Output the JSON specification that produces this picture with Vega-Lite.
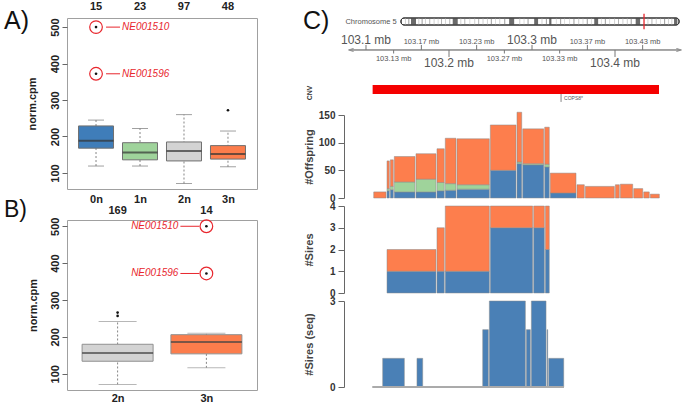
{
  "$schema": "https://vega.github.io/schema/vega-lite/v6.json",
  "background": "white",
  "padding": {"left": 3, "top": 0, "right": 0, "bottom": 0},
  "config": {
    "font": "Liberation Sans",
    "view": {"stroke": null},
    "axis": {"grid": false, "labelOverlap": false, "labelFlush": false}
  },
  "resolve": {"scale": {"color": "independent", "shape": "independent"}},
  "datasets": {
    "boxA": [
      {"cn": "0n", "lower": 119, "q1": 168, "median": 188, "q3": 229, "upper": 245, "n": 15},
      {"cn": "1n", "lower": 119, "q1": 136, "median": 156, "q3": 183, "upper": 222, "n": 23},
      {"cn": "2n", "lower": 71, "q1": 133, "median": 160, "q3": 185, "upper": 260, "n": 97},
      {"cn": "3n", "lower": 117, "q1": 138, "median": 152, "q3": 175, "upper": 215, "n": 48}
    ],
    "outA": [
      {"cn": "0n", "value": 500}, {"cn": "0n", "value": 372}, {"cn": "3n", "value": 272}
    ],
    "annA": [
      {"cn": "0n", "value": 500, "label": "NE001510"},
      {"cn": "0n", "value": 372, "label": "NE001596"}
    ],
    "boxB": [
      {"cn": "2n", "lower": 71, "q1": 134, "median": 156, "q3": 180, "upper": 242, "n": 169},
      {"cn": "3n", "lower": 116, "q1": 154, "median": 186, "q3": 206, "upper": 210, "n": 14}
    ],
    "outB": [
      {"cn": "2n", "value": 257}, {"cn": "2n", "value": 266},
      {"cn": "3n", "value": 500}, {"cn": "3n", "value": 372}
    ],
    "annB": [
      {"cn": "3n", "value": 500, "label": "NE001510"},
      {"cn": "3n", "value": 372, "label": "NE001596"}
    ],
    "chrom": [{"name": "Chromosome 5", "start": 0, "end": 1}],
    "marker": [{"pos": 0.874}],
    "bands": [
      {"start": 0.014, "end": 0.018, "stain": "gpos25"},
      {"start": 0.026, "end": 0.030, "stain": "gpos50"},
      {"start": 0.036, "end": 0.054, "stain": "gpos75"},
      {"start": 0.062, "end": 0.066, "stain": "gpos25"},
      {"start": 0.074, "end": 0.078, "stain": "gpos50"},
      {"start": 0.086, "end": 0.090, "stain": "gpos25"},
      {"start": 0.102, "end": 0.105, "stain": "gpos50"},
      {"start": 0.117, "end": 0.121, "stain": "gpos25"},
      {"start": 0.132, "end": 0.135, "stain": "gpos25"},
      {"start": 0.144, "end": 0.147, "stain": "gpos50"},
      {"start": 0.158, "end": 0.162, "stain": "gpos25"},
      {"start": 0.174, "end": 0.177, "stain": "gpos50"},
      {"start": 0.186, "end": 0.204, "stain": "gpos75"},
      {"start": 0.213, "end": 0.217, "stain": "gpos25"},
      {"start": 0.228, "end": 0.231, "stain": "gpos50"},
      {"start": 0.246, "end": 0.249, "stain": "gpos25"},
      {"start": 0.263, "end": 0.267, "stain": "gpos25"},
      {"start": 0.278, "end": 0.281, "stain": "gpos50"},
      {"start": 0.293, "end": 0.297, "stain": "gpos25"},
      {"start": 0.309, "end": 0.313, "stain": "gpos25"},
      {"start": 0.323, "end": 0.327, "stain": "gpos50"},
      {"start": 0.338, "end": 0.341, "stain": "gpos25"},
      {"start": 0.353, "end": 0.357, "stain": "gpos25"},
      {"start": 0.371, "end": 0.375, "stain": "gpos50"},
      {"start": 0.389, "end": 0.407, "stain": "gpos75"},
      {"start": 0.425, "end": 0.429, "stain": "gpos25"},
      {"start": 0.441, "end": 0.444, "stain": "gpos25"},
      {"start": 0.455, "end": 0.459, "stain": "gpos50"},
      {"start": 0.479, "end": 0.493, "stain": "gpos75"},
      {"start": 0.505, "end": 0.509, "stain": "gpos25"},
      {"start": 0.521, "end": 0.525, "stain": "gpos50"},
      {"start": 0.533, "end": 0.541, "stain": "gpos75"},
      {"start": 0.557, "end": 0.560, "stain": "gpos25"},
      {"start": 0.572, "end": 0.576, "stain": "gpos50"},
      {"start": 0.587, "end": 0.590, "stain": "gpos25"},
      {"start": 0.605, "end": 0.608, "stain": "gpos25"},
      {"start": 0.620, "end": 0.624, "stain": "gpos50"},
      {"start": 0.637, "end": 0.641, "stain": "gpos25"},
      {"start": 0.653, "end": 0.656, "stain": "gpos25"},
      {"start": 0.668, "end": 0.672, "stain": "gpos50"},
      {"start": 0.683, "end": 0.686, "stain": "gpos25"},
      {"start": 0.695, "end": 0.709, "stain": "gpos75"},
      {"start": 0.719, "end": 0.722, "stain": "gpos25"},
      {"start": 0.733, "end": 0.737, "stain": "gpos50"},
      {"start": 0.749, "end": 0.752, "stain": "gpos25"},
      {"start": 0.766, "end": 0.770, "stain": "gpos25"},
      {"start": 0.781, "end": 0.784, "stain": "gpos50"},
      {"start": 0.796, "end": 0.800, "stain": "gpos25"},
      {"start": 0.812, "end": 0.816, "stain": "gpos25"},
      {"start": 0.826, "end": 0.830, "stain": "gpos50"},
      {"start": 0.844, "end": 0.860, "stain": "gpos75"},
      {"start": 0.886, "end": 0.890, "stain": "gpos25"},
      {"start": 0.901, "end": 0.904, "stain": "gpos50"},
      {"start": 0.916, "end": 0.920, "stain": "gpos25"},
      {"start": 0.932, "end": 0.935, "stain": "gpos25"},
      {"start": 0.946, "end": 0.950, "stain": "gpos50"},
      {"start": 0.960, "end": 0.964, "stain": "gpos25"},
      {"start": 0.972, "end": 0.976, "stain": "gpos25"},
      {"start": 0.982, "end": 0.994, "stain": "gpos75"}
    ],
    "gticks": [
      {"mb": 103.1, "label": "103.1 mb", "major": true, "side": "above"},
      {"mb": 103.1333, "label": "103.13 mb", "major": false, "side": "below"},
      {"mb": 103.1667, "label": "103.17 mb", "major": false, "side": "above"},
      {"mb": 103.2, "label": "103.2 mb", "major": true, "side": "below"},
      {"mb": 103.2333, "label": "103.23 mb", "major": false, "side": "above"},
      {"mb": 103.2667, "label": "103.27 mb", "major": false, "side": "below"},
      {"mb": 103.3, "label": "103.3 mb", "major": true, "side": "above"},
      {"mb": 103.3333, "label": "103.33 mb", "major": false, "side": "below"},
      {"mb": 103.3667, "label": "103.37 mb", "major": false, "side": "above"},
      {"mb": 103.4, "label": "103.4 mb", "major": true, "side": "below"},
      {"mb": 103.4333, "label": "103.43 mb", "major": false, "side": "above"}
    ],
    "garrows": [
      {"mb": 103.082, "dir": "left"},
      {"mb": 103.477, "dir": "right"}
    ],
    "cnv": [{"track": "CNV", "start": 103.108, "end": 103.453}],
    "genes": [{"gene": "COPS8*", "pos": 103.335}],
    "offspring": [
      {"start": 103.1081, "end": 103.1241, "type": "untested", "n": 11},
      {"start": 103.1241, "end": 103.1281, "type": "genotyped", "n": 13},
      {"start": 103.1241, "end": 103.1281, "type": "imputed", "n": 4},
      {"start": 103.1241, "end": 103.1281, "type": "untested", "n": 50},
      {"start": 103.1281, "end": 103.1329, "type": "genotyped", "n": 15},
      {"start": 103.1281, "end": 103.1329, "type": "imputed", "n": 6},
      {"start": 103.1281, "end": 103.1329, "type": "untested", "n": 48},
      {"start": 103.1329, "end": 103.1590, "type": "genotyped", "n": 11},
      {"start": 103.1329, "end": 103.1590, "type": "imputed", "n": 18},
      {"start": 103.1329, "end": 103.1590, "type": "untested", "n": 46},
      {"start": 103.1590, "end": 103.1843, "type": "genotyped", "n": 11},
      {"start": 103.1590, "end": 103.1843, "type": "imputed", "n": 23},
      {"start": 103.1590, "end": 103.1843, "type": "untested", "n": 46},
      {"start": 103.1843, "end": 103.1943, "type": "genotyped", "n": 13},
      {"start": 103.1843, "end": 103.1943, "type": "imputed", "n": 15},
      {"start": 103.1843, "end": 103.1943, "type": "untested", "n": 61},
      {"start": 103.1943, "end": 103.2084, "type": "genotyped", "n": 14},
      {"start": 103.1943, "end": 103.2084, "type": "imputed", "n": 12},
      {"start": 103.1943, "end": 103.2084, "type": "untested", "n": 82},
      {"start": 103.2084, "end": 103.2486, "type": "genotyped", "n": 16},
      {"start": 103.2084, "end": 103.2486, "type": "imputed", "n": 8},
      {"start": 103.2084, "end": 103.2486, "type": "untested", "n": 83},
      {"start": 103.2486, "end": 103.2807, "type": "genotyped", "n": 50},
      {"start": 103.2486, "end": 103.2807, "type": "untested", "n": 82},
      {"start": 103.2807, "end": 103.2876, "type": "genotyped", "n": 62},
      {"start": 103.2807, "end": 103.2876, "type": "imputed", "n": 3},
      {"start": 103.2807, "end": 103.2876, "type": "untested", "n": 90},
      {"start": 103.2876, "end": 103.3141, "type": "genotyped", "n": 60},
      {"start": 103.2876, "end": 103.3141, "type": "imputed", "n": 2},
      {"start": 103.2876, "end": 103.3141, "type": "untested", "n": 63},
      {"start": 103.3141, "end": 103.3208, "type": "genotyped", "n": 56},
      {"start": 103.3141, "end": 103.3208, "type": "imputed", "n": 5},
      {"start": 103.3141, "end": 103.3208, "type": "untested", "n": 67},
      {"start": 103.3208, "end": 103.3530, "type": "genotyped", "n": 9},
      {"start": 103.3208, "end": 103.3530, "type": "untested", "n": 36},
      {"start": 103.3530, "end": 103.3630, "type": "untested", "n": 24},
      {"start": 103.3630, "end": 103.3992, "type": "untested", "n": 21},
      {"start": 103.3992, "end": 103.4052, "type": "untested", "n": 24},
      {"start": 103.4052, "end": 103.4213, "type": "untested", "n": 25},
      {"start": 103.4213, "end": 103.4334, "type": "untested", "n": 17},
      {"start": 103.4334, "end": 103.4413, "type": "untested", "n": 11},
      {"start": 103.4413, "end": 103.4534, "type": "untested", "n": 7}
    ],
    "sires": [
      {"start": 103.1241, "end": 103.1843, "type": "genotyped", "n": 1},
      {"start": 103.1241, "end": 103.1843, "type": "untested", "n": 1},
      {"start": 103.1843, "end": 103.1943, "type": "genotyped", "n": 1},
      {"start": 103.1843, "end": 103.1943, "type": "untested", "n": 2},
      {"start": 103.1943, "end": 103.2486, "type": "genotyped", "n": 1},
      {"start": 103.1943, "end": 103.2486, "type": "untested", "n": 3},
      {"start": 103.2486, "end": 103.3008, "type": "genotyped", "n": 3},
      {"start": 103.2486, "end": 103.3008, "type": "untested", "n": 1},
      {"start": 103.3008, "end": 103.3149, "type": "genotyped", "n": 3},
      {"start": 103.3008, "end": 103.3149, "type": "untested", "n": 1},
      {"start": 103.3149, "end": 103.3208, "type": "genotyped", "n": 2},
      {"start": 103.3149, "end": 103.3208, "type": "untested", "n": 2}
    ],
    "siresSeq": [
      {"start": 103.1189, "end": 103.1462, "n": 1},
      {"start": 103.1602, "end": 103.1683, "n": 1},
      {"start": 103.2394, "end": 103.2474, "n": 2},
      {"start": 103.2474, "end": 103.2920, "n": 3},
      {"start": 103.2920, "end": 103.2980, "n": 2},
      {"start": 103.2980, "end": 103.3169, "n": 3},
      {"start": 103.3169, "end": 103.3189, "n": 2},
      {"start": 103.3189, "end": 103.3382, "n": 1}
    ]
  },
  "spacing": 45,
  "hconcat": [
    {
      "spacing": 31,
      "bounds": "flush",
      "resolve": {"scale": {"color": "independent", "shape": "independent"}},
      "vconcat": [
        {
          "width": 190,
          "height": 171,
          "view": {"stroke": "#a0a0a0"},
          "title": {"text": "A)", "fontSize": 25, "fontWeight": "normal", "anchor": "start", "frame": "group", "baseline": "alphabetic", "offset": 0, "dx": -63, "dy": 53, "color": "#111"},
          "layer": [
            {
              "data": {"name": "boxA"},
              "mark": {"type": "rule", "strokeDash": [2, 2], "color": "#666", "strokeWidth": 0.8},
              "encoding": {
                "x": {"field": "cn", "type": "nominal", "scale": {"type": "point", "padding": 0.66, "domain": ["0n", "1n", "2n", "3n"]},
                  "axis": {"title": null, "labelAngle": 0, "labelFontWeight": "bold", "labelFontSize": 11, "labelColor": "#222", "domain": false, "ticks": false, "labelPadding": 4}},
                "y": {"field": "lower", "type": "quantitative", "scale": {"domain": [56, 525], "nice": false, "zero": false},
                  "axis": {"values": [100, 200, 300, 400, 500], "labelAngle": -90, "labelFontWeight": "bold", "labelFontSize": 11, "labelColor": "#222", "title": "norm.cpm", "titleFontSize": 11, "titleFontWeight": "bold", "titleColor": "#222", "titleX": -30, "titleBaseline": "bottom", "domain": false, "tickSize": 5, "tickColor": "#666", "labelPadding": 2}},
                "y2": {"field": "upper"}
              }
            },
            {
              "data": {"name": "boxA"},
              "mark": {"type": "tick", "size": 16, "thickness": 1, "color": "#777"},
              "encoding": {"x": {"field": "cn", "type": "nominal"}, "y": {"field": "lower", "type": "quantitative"}}
            },
            {
              "data": {"name": "boxA"},
              "mark": {"type": "tick", "size": 16, "thickness": 1, "color": "#777"},
              "encoding": {"x": {"field": "cn", "type": "nominal"}, "y": {"field": "upper", "type": "quantitative"}}
            },
            {
              "data": {"name": "boxA"},
              "mark": {"type": "bar", "size": 35, "stroke": "#707070", "strokeWidth": 1},
              "encoding": {
                "x": {"field": "cn", "type": "nominal"},
                "y": {"field": "q1", "type": "quantitative"},
                "y2": {"field": "q3"},
                "color": {"field": "cn", "type": "nominal", "scale": {"domain": ["0n", "1n", "2n", "3n"], "range": ["#3f7db9", "#9fd39b", "#d3d3d3", "#fc7d4c"]}, "legend": null}
              }
            },
            {
              "data": {"name": "boxA"},
              "mark": {"type": "tick", "size": 35, "thickness": 2, "color": "#333"},
              "encoding": {"x": {"field": "cn", "type": "nominal"}, "y": {"field": "median", "type": "quantitative"}}
            },
            {
              "data": {"name": "outA"},
              "mark": {"type": "point", "filled": true, "size": 7, "color": "#111", "opacity": 1},
              "encoding": {"x": {"field": "cn", "type": "nominal"}, "y": {"field": "value", "type": "quantitative"}}
            },
            {
              "data": {"name": "annA"},
              "mark": {"type": "point", "filled": false, "size": 160, "color": "#e8262d", "strokeWidth": 1.2, "opacity": 1},
              "encoding": {"x": {"field": "cn", "type": "nominal"}, "y": {"field": "value", "type": "quantitative"}}
            },
            {
              "data": {"name": "annA"},
              "mark": {"type": "rule", "color": "#e8262d", "strokeWidth": 1, "xOffset": 10, "x2Offset": 24},
              "encoding": {"x": {"field": "cn", "type": "nominal"}, "x2": {"field": "cn"}, "y": {"field": "value", "type": "quantitative"}}
            },
            {
              "data": {"name": "annA"},
              "mark": {"type": "text", "align": "left", "dx": 26, "fontStyle": "italic", "fontSize": 10, "color": "#e8262d"},
              "encoding": {"x": {"field": "cn", "type": "nominal"}, "y": {"field": "value", "type": "quantitative"}, "text": {"field": "label"}}
            },
            {
              "data": {"name": "boxA"},
              "mark": {"type": "text", "fontWeight": "bold", "fontSize": 11, "color": "#222"},
              "encoding": {"x": {"field": "cn", "type": "nominal"}, "y": {"datum": 555, "type": "quantitative"}, "text": {"field": "n"}}
            }
          ]
        },
        {
          "width": 190,
          "height": 170,
          "view": {"stroke": "#a0a0a0"},
          "title": {"text": "B)", "fontSize": 23, "fontWeight": "normal", "anchor": "start", "frame": "group", "baseline": "alphabetic", "offset": 0, "dx": -63, "dy": 35, "color": "#111"},
          "layer": [
            {
              "data": {"name": "boxB"},
              "mark": {"type": "rule", "strokeDash": [2, 2], "color": "#666", "strokeWidth": 0.8},
              "encoding": {
                "x": {"field": "cn", "type": "nominal", "scale": {"type": "point", "padding": 0.57, "domain": ["2n", "3n"]},
                  "axis": {"title": null, "labelAngle": 0, "labelFontWeight": "bold", "labelFontSize": 11, "labelColor": "#222", "domain": false, "ticks": false, "labelPadding": 2}},
                "y": {"field": "lower", "type": "quantitative", "scale": {"domain": [56, 517], "nice": false, "zero": false},
                  "axis": {"values": [100, 200, 300, 400, 500], "labelAngle": -90, "labelFontWeight": "bold", "labelFontSize": 11, "labelColor": "#222", "title": "norm.cpm", "titleFontSize": 11, "titleFontWeight": "bold", "titleColor": "#222", "titleX": -29, "titleBaseline": "bottom", "domain": false, "tickSize": 5, "tickColor": "#666", "labelPadding": 2}},
                "y2": {"field": "upper"}
              }
            },
            {
              "data": {"name": "boxB"},
              "mark": {"type": "tick", "size": 38, "thickness": 1, "color": "#999"},
              "encoding": {"x": {"field": "cn", "type": "nominal"}, "y": {"field": "lower", "type": "quantitative"}}
            },
            {
              "data": {"name": "boxB"},
              "mark": {"type": "tick", "size": 38, "thickness": 1, "color": "#999"},
              "encoding": {"x": {"field": "cn", "type": "nominal"}, "y": {"field": "upper", "type": "quantitative"}}
            },
            {
              "data": {"name": "boxB"},
              "mark": {"type": "bar", "size": 71, "stroke": "#909090", "strokeWidth": 1},
              "encoding": {
                "x": {"field": "cn", "type": "nominal"},
                "y": {"field": "q1", "type": "quantitative"},
                "y2": {"field": "q3"},
                "color": {"field": "cn", "type": "nominal", "scale": {"domain": ["0n", "1n", "2n", "3n"], "range": ["#3f7db9", "#9fd39b", "#d3d3d3", "#fc7d4c"]}, "legend": null}
              }
            },
            {
              "data": {"name": "boxB"},
              "mark": {"type": "tick", "size": 71, "thickness": 2, "color": "#444"},
              "encoding": {"x": {"field": "cn", "type": "nominal"}, "y": {"field": "median", "type": "quantitative"}}
            },
            {
              "data": {"name": "outB"},
              "mark": {"type": "point", "filled": true, "size": 7, "color": "#111", "opacity": 1},
              "encoding": {"x": {"field": "cn", "type": "nominal"}, "y": {"field": "value", "type": "quantitative"}}
            },
            {
              "data": {"name": "annB"},
              "mark": {"type": "point", "filled": false, "size": 160, "color": "#e8262d", "strokeWidth": 1.2, "opacity": 1},
              "encoding": {"x": {"field": "cn", "type": "nominal"}, "y": {"field": "value", "type": "quantitative"}}
            },
            {
              "data": {"name": "annB"},
              "mark": {"type": "rule", "color": "#e8262d", "strokeWidth": 1, "xOffset": -7, "x2Offset": -26},
              "encoding": {"x": {"field": "cn", "type": "nominal"}, "x2": {"field": "cn"}, "y": {"field": "value", "type": "quantitative"}}
            },
            {
              "data": {"name": "annB"},
              "mark": {"type": "text", "align": "right", "dx": -28, "fontStyle": "italic", "fontSize": 10, "color": "#e8262d"},
              "encoding": {"x": {"field": "cn", "type": "nominal"}, "y": {"field": "value", "type": "quantitative"}, "text": {"field": "label"}}
            },
            {
              "data": {"name": "boxB"},
              "mark": {"type": "text", "fontWeight": "bold", "fontSize": 11, "color": "#222"},
              "encoding": {"x": {"field": "cn", "type": "nominal"}, "y": {"datum": 541, "type": "quantitative"}, "text": {"field": "n"}}
            }
          ]
        }
      ]
    },
    {
      "spacing": 8,
      "bounds": "flush",
      "resolve": {"scale": {"color": "independent", "shape": "independent"}},
      "vconcat": [
        {
          "width": 337,
          "height": 7,
          "title": {"text": "C)", "fontSize": 25, "fontWeight": "normal", "anchor": "start", "frame": "group", "baseline": "alphabetic", "offset": 0, "dx": -41, "dy": 41, "color": "#111"},
          "layer": [
            {
              "data": {"name": "chrom"},
              "mark": {"type": "rect", "fill": "white", "stroke": "#333", "strokeWidth": 1, "cornerRadius": 3},
              "encoding": {
                "x": {"field": "start", "type": "quantitative", "scale": {"domain": [-0.205, 1.007], "nice": false, "zero": false}, "axis": null},
                "x2": {"field": "end"}
              }
            },
            {
              "data": {"name": "bands"},
              "mark": {"type": "rect"},
              "encoding": {
                "x": {"field": "start", "type": "quantitative"},
                "x2": {"field": "end"},
                "color": {"field": "stain", "type": "nominal", "scale": {"domain": ["gpos25", "gpos50", "gpos75"], "range": ["#d6d6d6", "#a6a6a6", "#6a6a6a"]}, "legend": null}
              }
            },
            {
              "data": {"name": "chrom"},
              "mark": {"type": "rect", "fill": null, "fillOpacity": 0, "stroke": "#333", "strokeWidth": 1, "cornerRadius": 3},
              "encoding": {"x": {"field": "start", "type": "quantitative"}, "x2": {"field": "end"}}
            },
            {
              "data": {"name": "marker"},
              "mark": {"type": "rule", "color": "#e8262d", "strokeWidth": 1.3},
              "encoding": {
                "x": {"field": "pos", "type": "quantitative"},
                "y": {"datum": -0.6, "type": "quantitative", "scale": {"domain": [0, 1], "nice": false}, "axis": null},
                "y2": {"datum": 1.6}
              }
            },
            {
              "data": {"name": "chrom"},
              "mark": {"type": "text", "align": "left", "baseline": "middle", "fontSize": 7.5, "color": "#555"},
              "encoding": {"x": {"datum": -0.2, "type": "quantitative"}, "text": {"field": "name"}}
            }
          ]
        },
        {
          "width": 337,
          "height": 44,
          "layer": [
            {
              "data": {"name": "garrows"},
              "mark": {"type": "rule", "color": "#888", "strokeWidth": 1},
              "encoding": {
                "x": {"datum": 103.082, "type": "quantitative", "scale": {"domain": [103.0735, 103.4795], "nice": false, "zero": false}, "axis": null},
                "x2": {"datum": 103.477},
                "y": {"datum": 0.614, "type": "quantitative", "scale": {"domain": [0, 1], "nice": false}, "axis": null}
              }
            },
            {
              "data": {"name": "garrows"},
              "mark": {"type": "point", "filled": false, "size": 25, "color": "#888", "strokeWidth": 1, "opacity": 1},
              "encoding": {
                "x": {"field": "mb", "type": "quantitative"},
                "y": {"datum": 0.614, "type": "quantitative"},
                "shape": {"field": "dir", "type": "nominal", "scale": {"domain": ["left", "right"], "range": ["M1,-0.6L-1,0L1,0.6", "M-1,-0.6L1,0L-1,0.6"]}, "legend": null}
              }
            },
            {
              "data": {"name": "gticks"},
              "transform": [{"filter": "datum.side == 'above'"}],
              "mark": {"type": "rule", "color": "#777"},
              "encoding": {"x": {"field": "mb", "type": "quantitative"}, "y": {"datum": 0.614, "type": "quantitative"}, "y2": {"datum": 0.728}}
            },
            {
              "data": {"name": "gticks"},
              "transform": [{"filter": "datum.side == 'below' && !datum.major"}],
              "mark": {"type": "rule", "color": "#777"},
              "encoding": {"x": {"field": "mb", "type": "quantitative"}, "y": {"datum": 0.614, "type": "quantitative"}, "y2": {"datum": 0.534}}
            },
            {
              "data": {"name": "gticks"},
              "transform": [{"filter": "datum.side == 'below' && datum.major"}],
              "mark": {"type": "rule", "color": "#777"},
              "encoding": {"x": {"field": "mb", "type": "quantitative"}, "y": {"datum": 0.614, "type": "quantitative"}, "y2": {"datum": 0.455}}
            },
            {
              "data": {"name": "gticks"},
              "transform": [{"filter": "datum.side == 'above' && datum.major"}],
              "mark": {"type": "text", "baseline": "alphabetic", "dy": -6, "fontSize": 12, "color": "#555"},
              "encoding": {"x": {"field": "mb", "type": "quantitative"}, "y": {"datum": 0.614, "type": "quantitative"}, "text": {"field": "label"}}
            },
            {
              "data": {"name": "gticks"},
              "transform": [{"filter": "datum.side == 'above' && !datum.major"}],
              "mark": {"type": "text", "baseline": "alphabetic", "dy": -6, "fontSize": 7.5, "color": "#555"},
              "encoding": {"x": {"field": "mb", "type": "quantitative"}, "y": {"datum": 0.614, "type": "quantitative"}, "text": {"field": "label"}}
            },
            {
              "data": {"name": "gticks"},
              "transform": [{"filter": "datum.side == 'below' && !datum.major"}],
              "mark": {"type": "text", "baseline": "alphabetic", "dy": 11, "fontSize": 7.5, "color": "#555"},
              "encoding": {"x": {"field": "mb", "type": "quantitative"}, "y": {"datum": 0.614, "type": "quantitative"}, "text": {"field": "label"}}
            },
            {
              "data": {"name": "gticks"},
              "transform": [{"filter": "datum.side == 'below' && datum.major"}],
              "mark": {"type": "text", "baseline": "alphabetic", "dy": 17, "fontSize": 12, "color": "#555"},
              "encoding": {"x": {"field": "mb", "type": "quantitative"}, "y": {"datum": 0.614, "type": "quantitative"}, "text": {"field": "label"}}
            }
          ]
        },
        {
          "width": 337,
          "height": 22,
          "layer": [
            {
              "data": {"name": "cnv"},
              "mark": {"type": "rect", "color": "#f50000"},
              "encoding": {
                "x": {"field": "start", "type": "quantitative", "scale": {"domain": [103.0735, 103.4795], "nice": false, "zero": false}, "axis": null},
                "x2": {"field": "end"},
                "y": {"datum": 1, "type": "quantitative", "scale": {"domain": [0, 1], "nice": false},
                  "axis": {"title": "CNV", "labels": false, "ticks": false, "domain": false, "grid": false, "titleFontSize": 7, "titleFontWeight": "bold", "titleColor": "#333", "titleAnchor": "end", "titleX": -32, "titleBaseline": "bottom"}},
                "y2": {"datum": 0.59}
              }
            },
            {
              "data": {"name": "genes"},
              "mark": {"type": "rule", "color": "#666", "strokeWidth": 0.8},
              "encoding": {"x": {"field": "pos", "type": "quantitative"}, "y": {"datum": 0.59, "type": "quantitative"}, "y2": {"datum": 0.23}}
            },
            {
              "data": {"name": "genes"},
              "mark": {"type": "text", "align": "left", "baseline": "middle", "dx": 3, "fontSize": 5, "color": "#555"},
              "encoding": {"x": {"field": "pos", "type": "quantitative"}, "y": {"datum": 0.41, "type": "quantitative"}, "text": {"field": "gene"}}
            }
          ]
        },
        {
          "width": 337,
          "height": 83,
          "data": {"name": "offspring"},
          "mark": {"type": "bar", "stroke": "#8a8a8a", "strokeWidth": 0.5},
          "encoding": {
            "x": {"field": "start", "type": "quantitative", "bin": "binned", "scale": {"domain": [103.0735, 103.4795], "nice": false, "zero": false}, "axis": null},
            "x2": {"field": "end"},
            "y": {"field": "n", "type": "quantitative", "stack": "zero", "scale": {"domain": [0, 150], "nice": false},
              "axis": {"values": [0, 50, 100, 150], "labelOverlap": false, "title": "#Offspring", "titleFontSize": 11, "titleFontWeight": "bold", "titleColor": "#444", "titleX": -30, "titleBaseline": "bottom", "labelFontSize": 10, "labelFontWeight": "bold", "labelColor": "#333", "tickSize": 6, "tickColor": "#666", "domainColor": "#666", "labelPadding": 3}},
            "color": {"field": "type", "type": "nominal", "scale": {"domain": ["genotyped", "imputed", "untested"], "range": ["#4a80b6", "#9fd39b", "#fd7e4d"]}, "legend": null},
            "order": {"field": "type", "sort": "ascending"}
          }
        },
        {
          "width": 337,
          "height": 87,
          "data": {"name": "sires"},
          "mark": {"type": "bar", "stroke": "#8a8a8a", "strokeWidth": 0.5},
          "encoding": {
            "x": {"field": "start", "type": "quantitative", "bin": "binned", "scale": {"domain": [103.0735, 103.4795], "nice": false, "zero": false}, "axis": null},
            "x2": {"field": "end"},
            "y": {"field": "n", "type": "quantitative", "stack": "zero", "scale": {"domain": [0, 4], "nice": false},
              "axis": {"values": [0, 1, 2, 3, 4], "labelOverlap": false, "title": "#Sires", "titleFontSize": 11, "titleFontWeight": "bold", "titleColor": "#444", "titleX": -30, "titleBaseline": "bottom", "labelFontSize": 10, "labelFontWeight": "bold", "labelColor": "#333", "tickSize": 6, "tickColor": "#666", "domainColor": "#666", "labelPadding": 3}},
            "color": {"field": "type", "type": "nominal", "scale": {"domain": ["genotyped", "imputed", "untested"], "range": ["#4a80b6", "#9fd39b", "#fd7e4d"]}, "legend": null},
            "order": {"field": "type", "sort": "ascending"}
          }
        },
        {
          "width": 337,
          "height": 86,
          "layer": [
            {
              "data": {"name": "siresSeq"},
              "mark": {"type": "bar", "stroke": "#8a8a8a", "strokeWidth": 0.5, "color": "#4a80b6"},
              "encoding": {
                "x": {"field": "start", "type": "quantitative", "bin": "binned", "scale": {"domain": [103.0735, 103.4795], "nice": false, "zero": false}, "axis": null},
                "x2": {"field": "end"},
                "y": {"field": "n", "type": "quantitative", "scale": {"domain": [0, 3], "nice": false},
                  "axis": {"values": [0, 0.5, 1, 1.5, 2, 2.5, 3], "labelOverlap": false, "format": "~g", "title": "#Sires (seq)", "titleFontSize": 11, "titleFontWeight": "bold", "titleColor": "#444", "titleX": -30, "titleBaseline": "bottom", "labelFontSize": 10, "labelFontWeight": "bold", "labelColor": "#333", "tickSize": 6, "tickColor": "#666", "domainColor": "#666", "labelPadding": 3}}
              }
            },
            {
              "data": {"name": "siresSeq"},
              "mark": {"type": "rule", "color": "#aaa", "strokeWidth": 1},
              "encoding": {
                "x": {"datum": 103.1081, "type": "quantitative"},
                "x2": {"datum": 103.3382},
                "y": {"datum": 0, "type": "quantitative"}
              }
            }
          ]
        }
      ]
    }
  ]
}
